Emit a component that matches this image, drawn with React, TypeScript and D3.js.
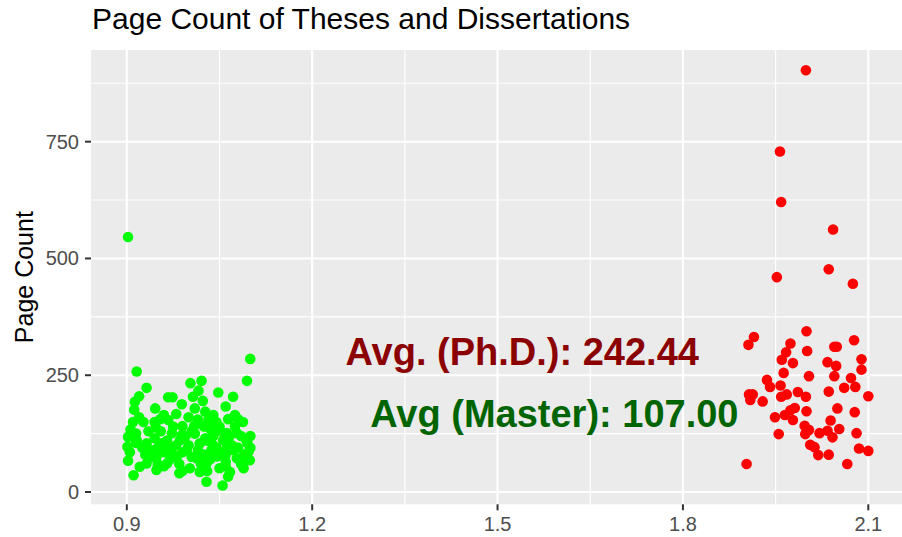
import React from "react";
import * as d3 from "d3";

const title = "Page Count of Theses and Dissertations";
const yTitle = "Page Count";
const xTicks = [0.9, 1.2, 1.5, 1.8, 2.1];
const xMinor = [1.05, 1.35, 1.65, 1.95];
const yTicks = [0, 250, 500, 750];
const yMinor = [125, 375, 625, 875];

// Master's theses (green), [jittered x, pages]
const masterX = [0.902, 1.0998, 1.0945, 0.916, 0.932, 0.92, 0.913, 0.912, 0.946, 0.967, 0.974, 0.989, 1.003, 1.021, 1.016, 1.007, 1.023, 1.048, 1.072, 1.06, 1.01, 1.027, 0.98, 0.954, 0.967, 0.927, 1.032, 1.064, 1.08, 1.088, 1.009, 0.947, 0.99, 0.906, 0.902, 1.036, 1.051, 1.092, 1.078, 0.901, 0.902, 0.911, 0.985, 1.029, 1.055, 1.099, 1.089, 1.097, 0.948, 1.002, 1.064, 1.05, 0.921, 0.938, 0.97, 0.986, 1.018, 1.056, 1.072, 0.948, 0.981, 1.013, 1.046, 1.078, 0.965, 1.029, 0.932, 0.916, 0.973, 0.989, 1.027, 1.062, 1.018, 1.067, 0.932, 1.062, 1.037, 0.997, 0.956,
  0.905, 0.915, 0.925, 0.935, 0.94, 0.945, 0.95, 0.955, 0.96, 0.965, 0.97, 0.975, 0.98, 0.985, 0.99, 0.995, 1.0, 1.005, 1.01, 1.015, 1.02, 1.025, 1.03, 1.035, 1.04, 1.045, 1.05, 1.055, 1.06, 1.065, 1.07, 1.075, 1.08, 1.085, 1.09, 1.095, 1.1, 0.92, 0.96, 1.0, 1.04, 1.075, 0.93, 0.95, 0.99, 1.03, 1.06, 1.085, 0.91, 0.945, 1.015, 1.045, 0.975, 1.025, 1.06, 0.915, 1.1, 0.96, 1.005, 1.04];
const masterY = [546, 285, 238, 258, 223, 205, 193, 176, 179, 203, 203, 188, 233, 238, 217, 204, 195, 213, 204, 183, 179, 172, 167, 156, 154, 150, 154, 156, 156, 150, 141, 138, 141, 134, 118, 134, 131, 114, 126, 97, 67, 36, 40, 22, 14, 68, 51, 86, 47, 51, 33, 51, 54, 90, 97, 111, 104, 111, 90, 76, 76, 72, 76, 72, 61, 61, 104, 111, 126, 122, 115, 126, 43, 43, 61, 101, 90, 90, 104,
  85, 125, 95, 130, 75, 115, 95, 130, 85, 110, 70, 140, 100, 60, 85, 120, 100, 75, 125, 90, 60, 140, 110, 70, 120, 95, 140, 85, 65, 115, 100, 140, 95, 120, 80, 105, 120, 160, 165, 160, 165, 165, 80, 60, 45, 45, 55, 60, 150, 150, 155, 150, 80, 80, 80, 105, 95, 55, 130, 100];

// Ph.D. dissertations (red)
const phdX = [1.999, 1.957, 1.959, 2.043, 1.952, 2.036, 2.075, 1.915, 1.906, 2.0, 1.974, 1.967, 1.96, 1.978, 2.001, 2.077, 2.045, 2.049, 2.089, 2.089, 2.034, 2.048, 2.045, 1.963, 2.004, 1.936, 1.941, 1.958, 2.072, 2.061, 2.079, 1.907, 1.913, 1.909, 1.929, 1.959, 1.968, 1.986, 1.999, 2.036, 2.1, 1.981, 1.974, 2.0, 2.05, 2.078, 1.949, 1.965, 1.978, 2.039, 2.053, 1.997, 2.004, 1.998, 1.955, 2.021, 2.034, 2.042, 2.081, 2.006, 2.013, 2.085, 2.1, 2.019, 2.036, 1.903, 2.066];
const phdY = [903, 729, 621, 562, 460, 477, 446, 332, 315, 344, 318, 299, 283, 276, 302, 325, 311, 311, 284, 262, 278, 270, 248, 255, 248, 240, 225, 228, 244, 223, 225, 209, 209, 197, 194, 204, 209, 214, 204, 215, 205, 180, 175, 173, 179, 171, 160, 165, 154, 153, 135, 142, 133, 124, 124, 126, 131, 117, 126, 101, 96, 93, 88, 79, 80, 60, 60];

const labels = [
  { text: "Avg. (Ph.D.): 242.44", x: 1.54, y: 300, color: "#8B0000" },
  { text: "Avg (Master): 107.00", x: 1.592, y: 167, color: "#006400" },
];

const W = 902, H = 537;
const font = "'Liberation Sans', Arial, Helvetica, sans-serif";

export default function App() {
  const x = d3.scaleLinear().domain([0.84206, 2.15794]).range([91, 904.1]);
  const y = d3.scaleLinear().domain([-26.33, 946.3]).range([504.3, 50]);
  const [x0, x1] = x.range();
  const [yb, yt] = y.range();
  const green = masterX.map((v, i) => [v, masterY[i]]);
  const red = phdX.map((v, i) => [v, phdY[i]]);
  return (
    <svg width={W} height={H} style={{ display: "block", position: "absolute", left: 0, top: 0 }}>
      <rect x={0} y={0} width={W} height={H} fill="#fff" />
      <defs>
        <clipPath id="panel">
          <rect x={x0} y={yt} width={x1 - x0} height={yb - yt} />
        </clipPath>
      </defs>
      <rect x={x0} y={yt} width={x1 - x0} height={yb - yt} fill="#EBEBEB" />
      <g clipPath="url(#panel)">
        {yMinor.map((v) => (
          <line key={"ym" + v} x1={x0} x2={x1} y1={y(v)} y2={y(v)} stroke="#fff" strokeWidth={1.1} />
        ))}
        {xMinor.map((v) => (
          <line key={"xm" + v} x1={x(v)} x2={x(v)} y1={yt} y2={yb} stroke="#fff" strokeWidth={1.1} />
        ))}
        {yTicks.map((v) => (
          <line key={"yM" + v} x1={x0} x2={x1} y1={y(v)} y2={y(v)} stroke="#fff" strokeWidth={2.1} />
        ))}
        {xTicks.map((v) => (
          <line key={"xM" + v} x1={x(v)} x2={x(v)} y1={yt} y2={yb} stroke="#fff" strokeWidth={2.1} />
        ))}
        {green.map((d, i) => (
          <circle key={"g" + i} cx={x(d[0])} cy={y(d[1])} r={5.3} fill="#00FF00" />
        ))}
        {red.map((d, i) => (
          <circle key={"r" + i} cx={x(d[0])} cy={y(d[1])} r={5.3} fill="#FF0000" />
        ))}
        {labels.map((l) => (
          <text key={l.text} x={x(l.x)} y={y(l.y)} dy="0.35em" textAnchor="middle" fill={l.color}
            fontFamily={font} fontWeight="bold" fontSize={38}>{l.text}</text>
        ))}
      </g>
      {yTicks.map((v) => (
        <g key={"yt" + v}>
          <line x1={x0 - 6} x2={x0} y1={y(v)} y2={y(v)} stroke="#333" strokeWidth={2} />
          <text x={x0 - 12} y={y(v)} dy="0.35em" textAnchor="end" fill="#4D4D4D" fontFamily={font} fontSize={20}>{v}</text>
        </g>
      ))}
      {xTicks.map((v) => (
        <g key={"xt" + v}>
          <line x1={x(v)} x2={x(v)} y1={yb} y2={yb + 6} stroke="#333" strokeWidth={2} />
          <text x={x(v)} y={531} textAnchor="middle" fill="#4D4D4D" fontFamily={font} fontSize={20}>{v.toFixed(1)}</text>
        </g>
      ))}
      <text transform={`translate(33, ${(yt + yb) / 2}) rotate(-90)`} textAnchor="middle" fill="#000"
        fontFamily={font} fontSize={25}>{yTitle}</text>
      <text x={92} y={29} fill="#000" fontFamily={font} fontSize={30}>{title}</text>
    </svg>
  );
}
